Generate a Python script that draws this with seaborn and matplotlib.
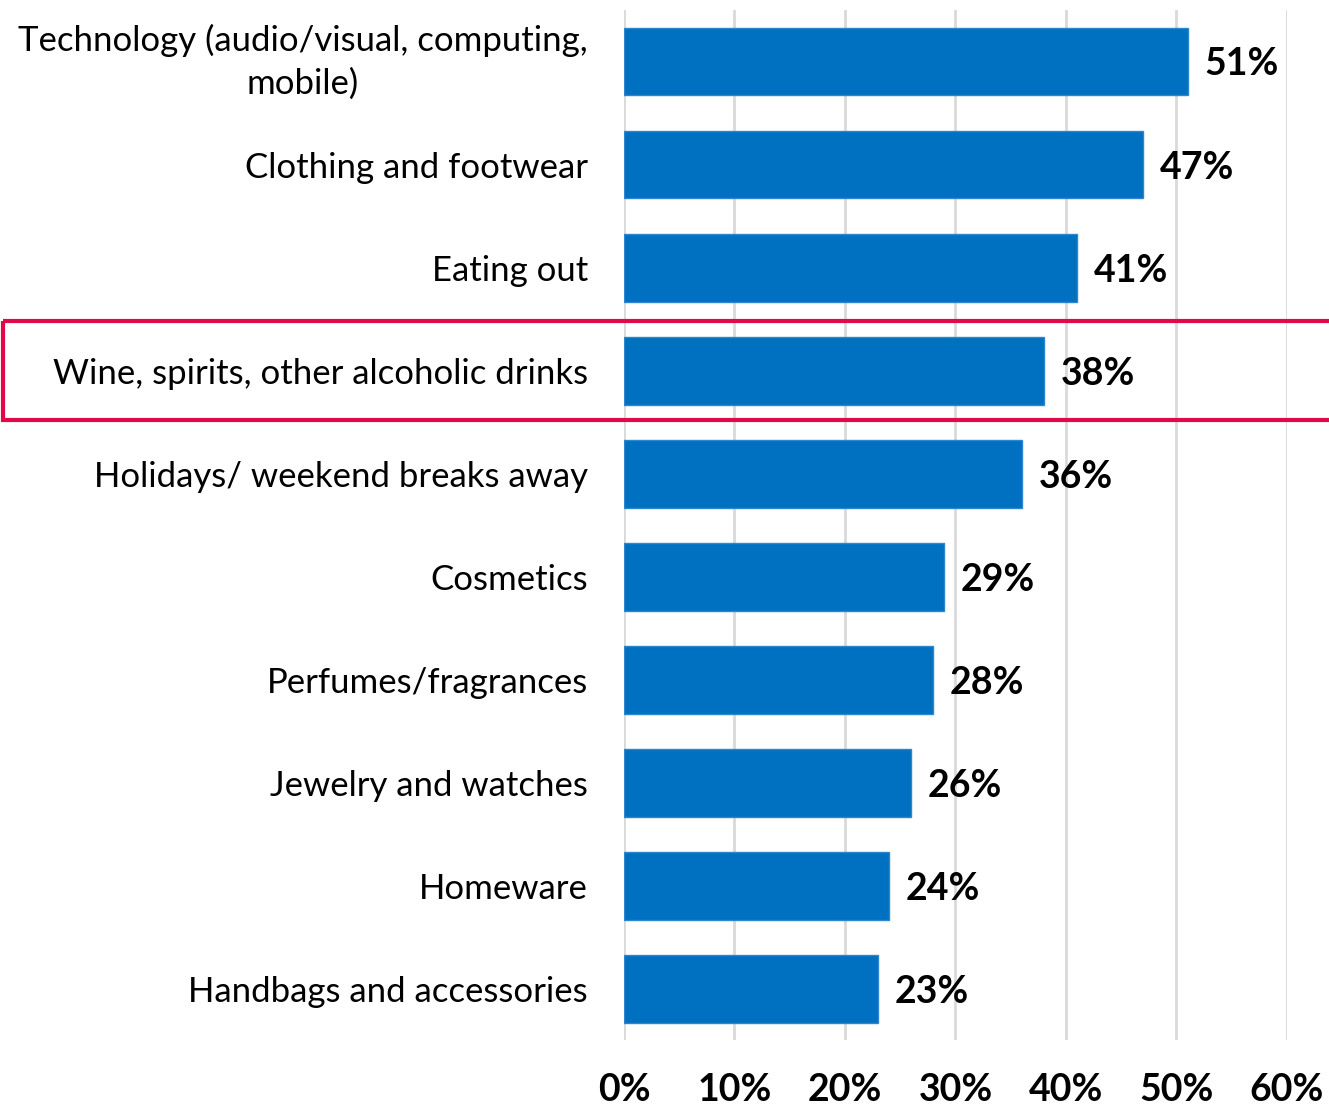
import matplotlib
matplotlib.use("Agg")
import matplotlib.pyplot as plt
import matplotlib.transforms as mtransforms
from matplotlib.patches import Rectangle
import seaborn as sns
import pandas as pd

categories = [
    "Technology (audio/visual, computing,\nmobile)",
    "Clothing and footwear",
    "Eating out",
    "Wine, spirits, other alcoholic drinks",
    "Holidays/ weekend breaks away",
    "Cosmetics",
    "Perfumes/fragrances",
    "Jewelry and watches",
    "Homeware",
    "Handbags and accessories",
]
shares = [51, 47, 41, 38, 36, 29, 28, 26, 24, 23]
x_ticks = [0, 10, 20, 30, 40, 50, 60]
x_tick_labels = ["0%", "10%", "20%", "30%", "40%", "50%", "60%"]
highlight = "Wine, spirits, other alcoholic drinks"

df = pd.DataFrame({"category": categories, "share": shares})

sns.set_style("white")
plt.rcParams["font.family"] = ["Lato", "DejaVu Sans"]
plt.rcParams["text.color"] = "black"
plt.rcParams["xtick.color"] = "black"
plt.rcParams["ytick.color"] = "black"

fig = plt.figure(figsize=(13.29, 11.10), dpi=100)
ax = fig.add_axes([0.4695, 0.063, 0.9684 - 0.4695, 0.928])

sns.barplot(data=df, x="share", y="category", order=categories,
            color="#0070C0", saturation=1, width=0.66, ax=ax,
            edgecolor="#2E86CF", linewidth=1)

ax.set_xlim(0, 60)
ax.set_ylim(9.5, -0.5)
ax.set_xticks(x_ticks)
ax.set_xticklabels(x_tick_labels, fontsize=27, fontweight="bold")
ax.tick_params(axis="x", length=0, pad=24)
ax.tick_params(axis="y", length=0, pad=26, labelsize=25)
for lbl in ax.get_yticklabels():
    lbl.set_horizontalalignment("right")
    lbl.set_multialignment("center")
    if "\n" in lbl.get_text():
        lbl.set_verticalalignment("center")
        lbl.set_linespacing(1.4)
ax.set_xlabel("")
ax.set_ylabel("")

ax.xaxis.grid(True, color="#D9D9D9", linewidth=2)
ax.set_axisbelow(True)
for s in ax.spines.values():
    s.set_visible(False)

for i, v in enumerate(shares):
    ax.text(v + 1.5, i, f"{v}%", va="center_baseline", ha="left",
            fontsize=27, fontweight="bold", color="black")

# frame around the highlighted category row
idx = categories.index(highlight)
trans = mtransforms.blended_transform_factory(fig.transFigure, ax.transData)
ax.add_patch(Rectangle((0.002, idx - 0.48), 1.2, 0.96, transform=trans,
                       fill=False, edgecolor="#E0094A", linewidth=3,
                       clip_on=False, zorder=5))

fig.savefig("out.png", dpi=100)
